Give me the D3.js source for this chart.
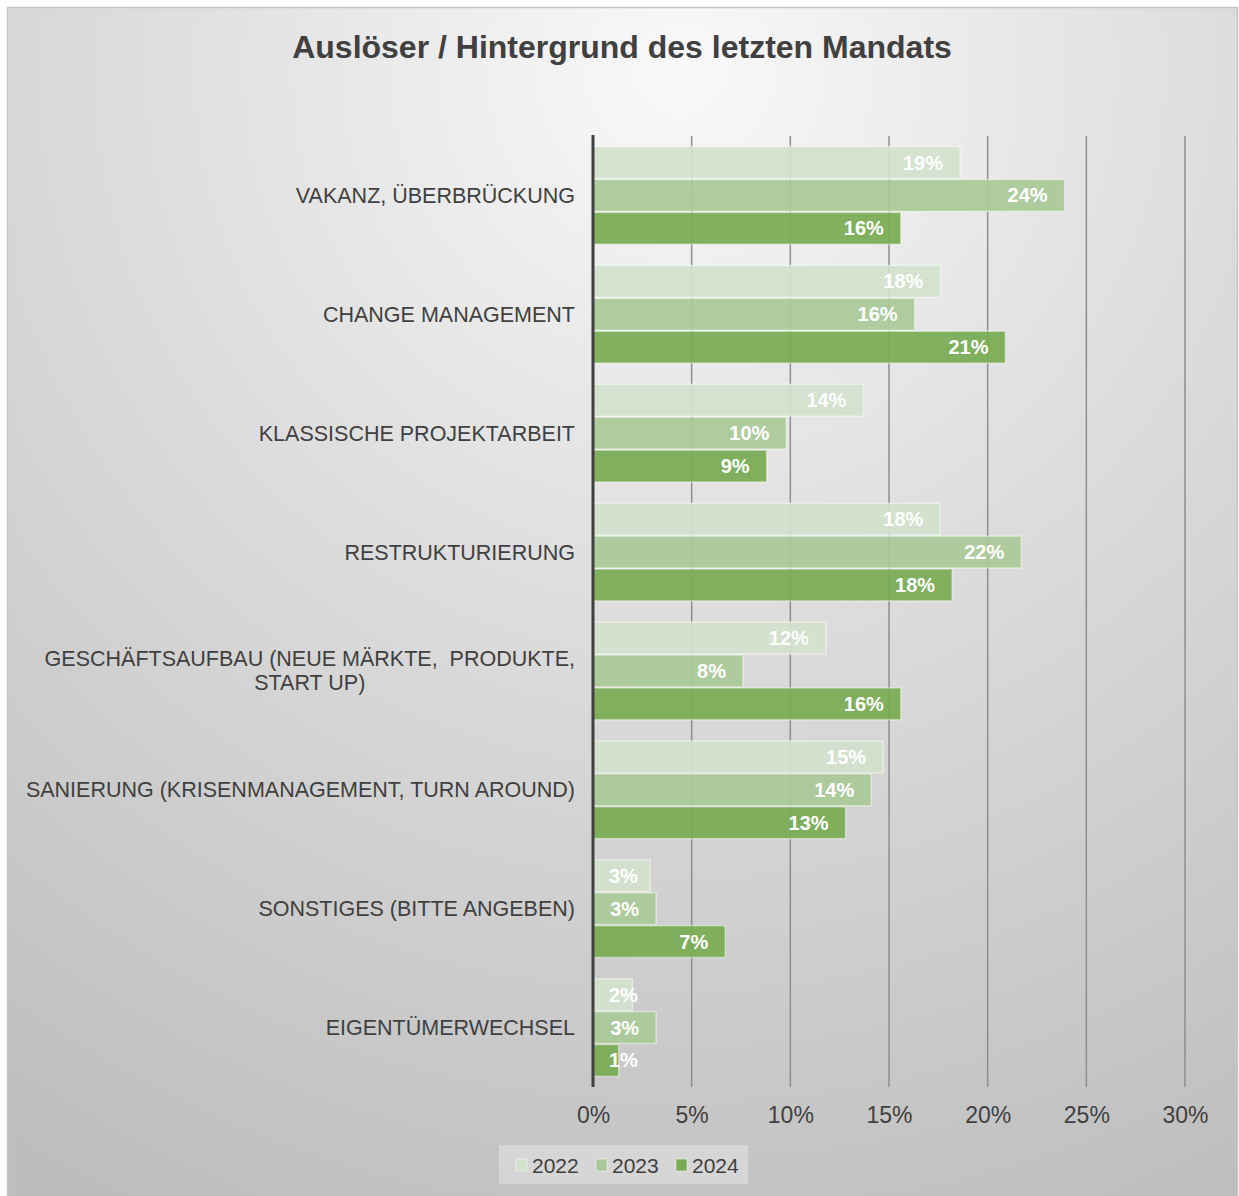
<!DOCTYPE html>
<html lang="de">
<head>
<meta charset="utf-8">
<title>Auslöser / Hintergrund des letzten Mandats</title>
<script src="https://d3js.org/d3.v7.min.js"></script>
<style>
  body { margin: 0; background: #fff; }
  svg text { font-family: Arial, "Liberation Sans", sans-serif; }
  .cat { font-size: 21.5px; fill: #404040; white-space: pre; }
  .val { font-size: 20px; font-weight: bold; fill: #fff; }
  .tick text { font-size: 23px; fill: #404040; }
</style>
</head>
<body>
<div id="chart"></div>
<script>
// categories, top to bottom
var categories = [
  "VAKANZ, ÜBERBRÜCKUNG",
  "CHANGE MANAGEMENT",
  "KLASSISCHE PROJEKTARBEIT",
  "RESTRUKTURIERUNG",
  "GESCHÄFTSAUFBAU (NEUE MÄRKTE,  PRODUKTE,|START UP)",
  "SANIERUNG (KRISENMANAGEMENT, TURN AROUND)",
  "SONSTIGES (BITTE ANGEBEN)",
  "EIGENTÜMERWECHSEL"
]
var years = ["2022", "2023", "2024"]
// percent values
var v2022 = [18.6, 17.6, 13.7, 17.6, 11.8, 14.7, 2.9, 2.0]
var v2023 = [23.9, 16.3, 9.8, 21.7, 7.6, 14.1, 3.2, 3.2]
var v2024 = [15.6, 20.9, 8.8, 18.2, 15.6, 12.8, 6.7, 1.3]
var ticks = [0, 5, 10, 15, 20, 25, 30]

var series = [v2022, v2023, v2024]
var colors = ["#d3e1cc", "#aac999", "#78ab54"]

var w = 1239, h = 1196
var svg = d3.select("#chart").append("svg")
  .attr("width", w).attr("height", h)

// background
var defs = svg.append("defs")
var grad = defs.append("radialGradient")
  .attr("id", "bg")
  .attr("gradientUnits", "userSpaceOnUse")
  .attr("cx", 680).attr("cy", 70).attr("r", 1260)
grad.append("stop").attr("offset", 0).attr("stop-color", "#f9f9f9")
grad.append("stop").attr("offset", 0.45).attr("stop-color", "#dcdcdc")
grad.append("stop").attr("offset", 1).attr("stop-color", "#bdbdbd")

svg.append("rect")
  .attr("x", 7.5).attr("y", 7.5)
  .attr("width", 1230).attr("height", 1200)
  .attr("fill", "url(#bg)")
  .attr("stroke", "#c6c6c6").attr("stroke-width", 1.5)

svg.append("text")
  .attr("x", 622).attr("y", 58)
  .attr("text-anchor", "middle")
  .style("font-size", "32px").style("font-weight", "bold")
  .attr("fill", "#404040")
  .text("Auslöser / Hintergrund des letzten Mandats")

var plotTop = 136, plotBottom = 1087
var xScale = d3.scaleLinear().domain([0, 30]).range([593, 1185])
var yScale = d3.scaleBand().domain(categories)
  .range([plotTop, plotBottom]).paddingInner(0.17).paddingOuter(0.085)
var subScale = d3.scaleBand().domain(years).range([0, yScale.bandwidth()])

// gridlines
svg.append("g").selectAll("line")
  .data(ticks.slice(1))
  .enter().append("line")
  .attr("x1", function(d) { return xScale(d) })
  .attr("x2", function(d) { return xScale(d) })
  .attr("y1", plotTop).attr("y2", plotBottom)
  .attr("stroke", "#8e8e8e").attr("stroke-width", 1.5)

// bars
var groups = svg.append("g").selectAll("g")
  .data(categories)
  .enter().append("g")
  .attr("transform", function(d) { return "translate(0," + yScale(d) + ")" })

groups.each(function(cat, ci) {
  var g = d3.select(this)
  years.forEach(function(yr, si) {
    var val = series[si][ci]
    g.append("rect")
      .attr("x", xScale(0))
      .attr("y", subScale(yr) + 0.5)
      .attr("width", xScale(val) - xScale(0))
      .attr("height", subScale.bandwidth() - 1)
      .attr("fill", colors[si])
      .attr("fill-opacity", 0.93)
      .attr("stroke", "#ffffff").attr("stroke-opacity", 0.45).attr("stroke-width", 1.5)
    var t = g.append("text")
      .attr("class", "val")
      .attr("y", subScale(yr) + subScale.bandwidth() / 2 + 7)
      .attr("text-anchor", "end")
      .text(Math.round(val) + "%")
    var tw = t.node().getComputedTextLength()
    t.attr("x", Math.max(xScale(val) - 17, xScale(0) + 16 + tw))
  })
})

// category labels
groups.each(function(cat) {
  var lines = cat.split("|")
  var g = d3.select(this)
  var mid = yScale.bandwidth() / 2
  if (lines.length === 1) {
    g.append("text").attr("class", "cat")
      .attr("x", 575).attr("y", mid + 7.5)
      .attr("text-anchor", "end")
      .text(cat)
  } else {
    var t1 = g.append("text").attr("class", "cat")
      .attr("y", mid - 12 + 7.5).attr("text-anchor", "middle").text(lines[0])
    var lw = t1.node().getComputedTextLength()
    var cx = 575 - lw / 2
    t1.attr("x", cx)
    g.append("text").attr("class", "cat")
      .attr("x", cx).attr("y", mid + 12 + 7.5)
      .attr("text-anchor", "middle").text(lines[1])
  }
})

// y axis line
svg.append("line")
  .attr("x1", xScale(0)).attr("x2", xScale(0))
  .attr("y1", plotTop - 1).attr("y2", plotBottom)
  .attr("stroke", "#404040").attr("stroke-width", 3)

// x axis labels
var xAxis = d3.axisBottom(xScale)
  .tickValues(ticks).tickSize(0).tickPadding(0)
  .tickFormat(function(d) { return d + "%" })
var ax = svg.append("g")
  .attr("transform", "translate(0,1107)")
  .call(xAxis)
ax.select(".domain").remove()
ax.selectAll("text").attr("fill", "#404040").attr("dy", "0.71em")

// legend
var leg = svg.append("g")
leg.append("rect")
  .attr("x", 499).attr("y", 1145).attr("width", 249).attr("height", 39)
  .attr("fill", "#ffffff").attr("fill-opacity", 0.3)
var legX = [516, 596, 676]
years.forEach(function(yr, i) {
  leg.append("rect")
    .attr("x", legX[i]).attr("y", 1159).attr("width", 11).attr("height", 12)
    .attr("fill", colors[i])
    .attr("stroke", "#ffffff").attr("stroke-opacity", 0.5)
  leg.append("text")
    .attr("x", legX[i] + 16).attr("y", 1173)
    .style("font-size", "21px").attr("fill", "#404040")
    .text(yr)
})
</script>
</body>
</html>
